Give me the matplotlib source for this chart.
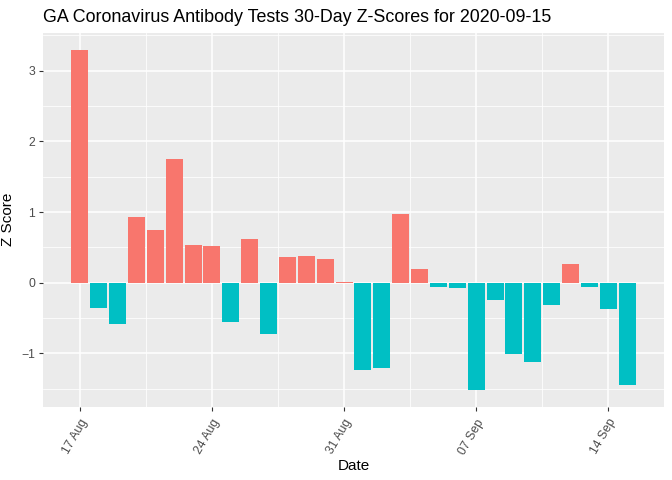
import numpy as np
import pandas as pd
import matplotlib
matplotlib.use('Agg')
import matplotlib.pyplot as plt
import matplotlib.dates as mdates
from matplotlib.ticker import MultipleLocator

plt.rcParams['font.family'] = ['Liberation Sans', 'DejaVu Sans']

# daily z-scores, 2020-08-17 .. 2020-09-15
dates = pd.date_range('2020-08-17', '2020-09-15', freq='D')
z_scores = [3.30, -0.36, -0.59, 0.93, 0.75, 1.75, 0.54, 0.52, -0.55, 0.62,
            -0.72, 0.37, 0.38, 0.34, 0.015, -1.23, -1.20, 0.97, 0.20, -0.056,
            -0.07, -1.51, -0.25, -1.01, -1.12, -0.31, 0.27, -0.056, -0.37, -1.44]
tick_dates = pd.to_datetime(['2020-08-17', '2020-08-24', '2020-08-31',
                             '2020-09-07', '2020-09-14'])
tick_labels = ['17 Aug', '24 Aug', '31 Aug', '07 Sep', '14 Sep']
title = 'GA Coronavirus Antibody Tests 30-Day Z-Scores for 2020-09-15'

pos_color = '#F8766D'
neg_color = '#00BFC4'
colors = [pos_color if z > 0 else neg_color for z in z_scores]

fig = plt.figure(figsize=(6.72, 4.8), dpi=100)
ax = fig.add_axes([43 / 672, 1 - 406.5 / 480, (664 - 43) / 672, (406.5 - 32.5) / 480])
ax.set_facecolor('#EBEBEB')

x = mdates.date2num(dates)
ax.bar(x, z_scores, width=0.9, color=colors, zorder=3)

tx = mdates.date2num(tick_dates)
ax.set_xticks(tx)
ax.set_xticklabels(tick_labels, rotation=60, ha='right', rotation_mode='anchor')
minor_x = np.concatenate([[tx[0] - 3.5], (tx[:-1] + tx[1:]) / 2, [tx[-1] + 3.5]])
ax.set_xticks(minor_x, minor=True)
ax.yaxis.set_major_locator(MultipleLocator(1))
ax.yaxis.set_minor_locator(MultipleLocator(0.5))

# limits with ggplot-like 5% expansion (after ticks so they stick)
xlo, xhi = x[0] - 0.45, x[-1] + 0.45
xpad = (xhi - xlo) * 0.05
ax.set_xlim(xlo - xpad, xhi + xpad)
ylo, yhi = min(z_scores), max(z_scores)
ypad = (yhi - ylo) * 0.05
ax.set_ylim(ylo - ypad, yhi + ypad)

ax.grid(which='major', color='white', linewidth=1.1, zorder=1)
ax.grid(which='minor', color='white', linewidth=0.55, zorder=1)
ax.set_axisbelow(True)
for s in ax.spines.values():
    s.set_visible(False)

ax.tick_params(which='major', length=3, width=0.8, color='#333333',
               labelcolor='#4D4D4D', labelsize=8.8, pad=2.5)
ax.tick_params(axis='x', which='major', pad=4.5)
ax.tick_params(which='minor', length=0)

ax.set_xlabel('Date', fontsize=11, labelpad=2)
ax.set_ylabel('Z Score', fontsize=11, labelpad=5)
fig.text(43 / 672, 1 - 22 / 480, title, fontsize=12.9, ha='left', va='baseline')

fig.savefig('out.png', dpi=100)
